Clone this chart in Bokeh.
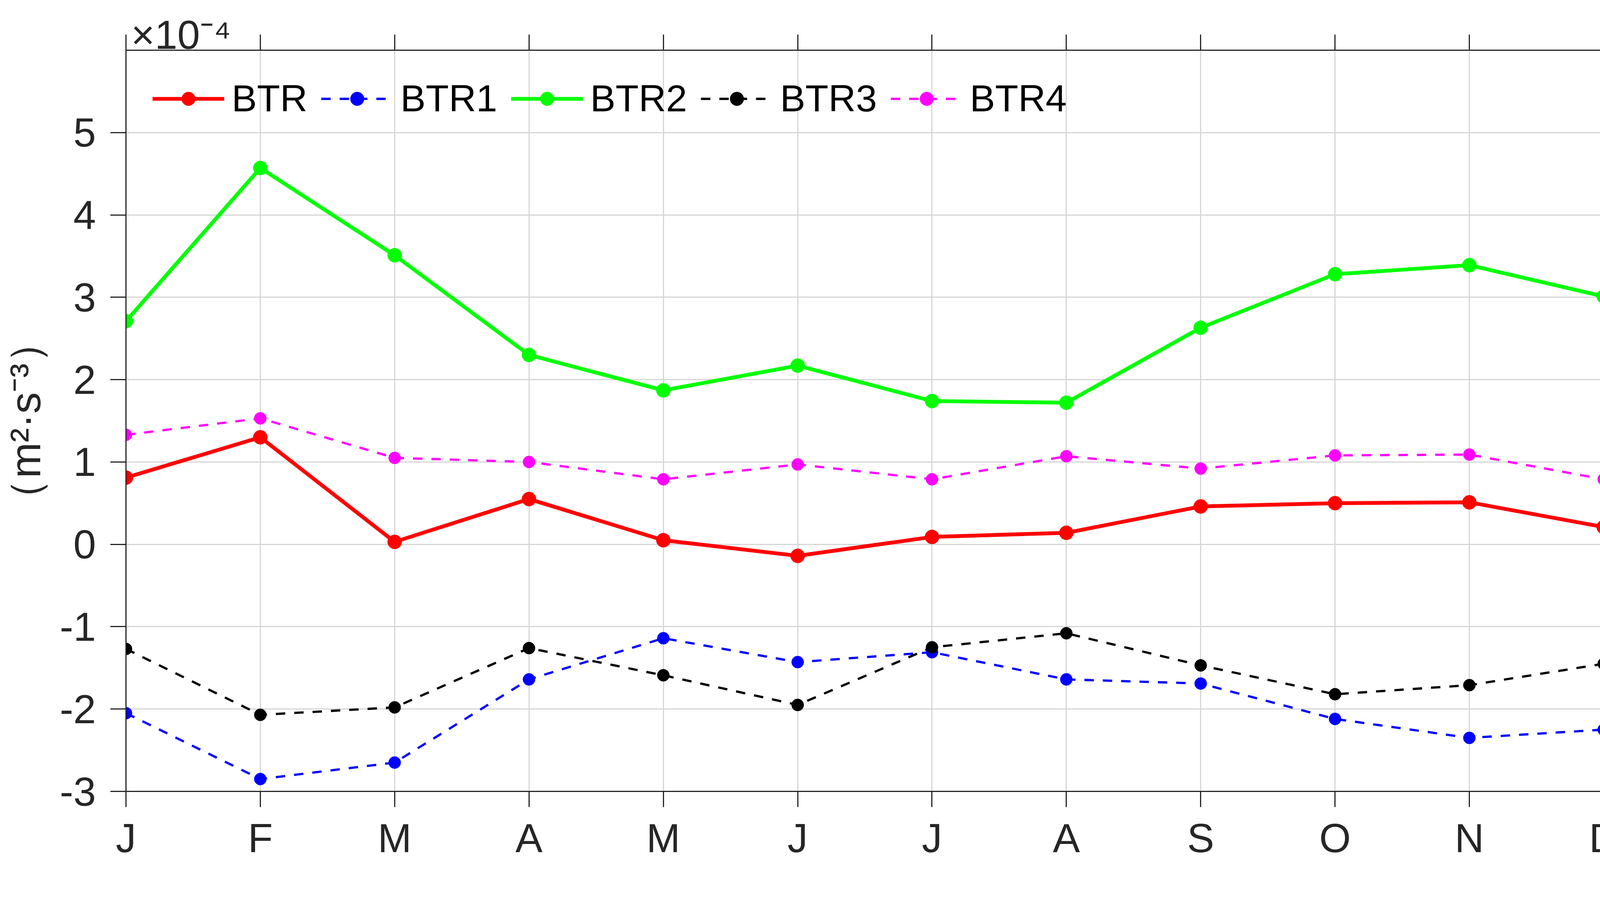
from bokeh.plotting import figure
from bokeh.models import LinearAxis, FixedTicker, Range1d, Legend
from bokeh.embed import file_html
from bokeh.resources import INLINE

# ---- data (values in units of 1e-4 m^2 s^-3) ----
month_pos = [1, 2, 3, 4, 5, 6, 7, 8, 9, 10, 11, 12]
month_labels = ["J", "F", "M", "A", "M", "J", "J", "A", "S", "O", "N", "D"]
btr = [0.81, 1.30, 0.03, 0.55, 0.05, -0.14, 0.09, 0.14, 0.46, 0.50, 0.51, 0.21]
btr1 = [-2.05, -2.85, -2.65, -1.64, -1.14, -1.43, -1.31, -1.64, -1.69, -2.12, -2.35, -2.25]
btr2 = [2.71, 4.57, 3.51, 2.30, 1.87, 2.17, 1.74, 1.72, 2.63, 3.28, 3.39, 3.01]
btr3 = [-1.27, -2.07, -1.98, -1.26, -1.59, -1.95, -1.25, -1.08, -1.47, -1.82, -1.71, -1.45]
btr4 = [1.33, 1.53, 1.05, 1.00, 0.79, 0.97, 0.79, 1.07, 0.92, 1.08, 1.09, 0.79]
y_ticks = [-3, -2, -1, 0, 1, 2, 3, 4, 5]
y_tick_labels = ["-3", "-2", "-1", "0", "1", "2", "3", "4", "5"]
exponent_text = "×10⁻⁴"

FONT = "Liberation Sans"
AX = "#262626"

p = figure(width=4160, height=2205, output_backend="svg", toolbar_location=None,
           x_range=Range1d(1, 12), y_range=Range1d(-3, 6),
           min_border_left=319, min_border_top=128, min_border_right=55, min_border_bottom=176)
p.outline_line_color = None
p.background_fill_color = "white"

# bottom / left axes
p.xaxis.ticker = FixedTicker(ticks=month_pos)
p.xaxis.major_label_overrides = {m: l for m, l in zip(month_pos, month_labels)}
p.yaxis.ticker = FixedTicker(ticks=y_ticks)
p.yaxis.major_label_overrides = {t: l for t, l in zip(y_ticks, y_tick_labels)}
for ax in (p.xaxis[0], p.yaxis[0]):
    ax.axis_line_color = AX
    ax.axis_line_width = 3
    ax.major_tick_line_color = AX
    ax.major_tick_line_width = 3
    ax.major_tick_out = 40
    ax.major_tick_in = 0
    ax.minor_tick_line_color = None
    ax.major_label_text_font = FONT
    ax.major_label_text_font_size = "104px"
    ax.major_label_text_color = AX
p.xaxis.major_label_standoff = 21
p.yaxis.major_label_standoff = 37
p.yaxis.axis_label = "（m²·s⁻³）"
p.yaxis.axis_label_text_font = FONT
p.yaxis.axis_label_text_font_size = "110px"
p.yaxis.axis_label_text_font_style = "normal"
p.yaxis.axis_label_text_color = AX
p.yaxis.axis_label_standoff = 24

# box: top and right axes with outward ticks, no labels
top = LinearAxis(ticker=FixedTicker(ticks=month_pos),
                 major_label_overrides={m: "" for m in month_pos})
right = LinearAxis(ticker=FixedTicker(ticks=y_ticks),
                   major_label_overrides={t: "" for t in y_ticks})
for ax in (top, right):
    ax.axis_line_color = AX
    ax.axis_line_width = 3
    ax.major_tick_line_color = AX
    ax.major_tick_line_width = 3
    ax.major_tick_out = 40
    ax.major_tick_in = 0
    ax.minor_tick_line_color = None
    ax.major_label_text_font_size = "1px"
    ax.major_label_standoff = 0
p.add_layout(top, "above")
p.add_layout(right, "right")

# exponent text (x 10^-4) carried by a bare outer top axis
exp_pos = 1.41
exp_axis = LinearAxis(ticker=FixedTicker(ticks=[exp_pos]),
                      major_label_overrides={exp_pos: exponent_text})
exp_axis.axis_line_color = None
exp_axis.major_tick_line_color = None
exp_axis.major_tick_out = 0
exp_axis.major_tick_in = 0
exp_axis.minor_tick_line_color = None
exp_axis.major_label_text_font = FONT
exp_axis.major_label_text_font_size = "104px"
exp_axis.major_label_text_color = AX
exp_axis.major_label_standoff = -58
p.add_layout(exp_axis, "above")

# grid
p.xgrid.ticker = FixedTicker(ticks=month_pos)
p.ygrid.ticker = FixedTicker(ticks=y_ticks)
for g in (p.xgrid[0], p.ygrid[0]):
    g.grid_line_color = "#d6d6d6"
    g.grid_line_width = 3

# series
series = [
    ("BTR", btr, "#ff0000", 9.7, None, 36),
    ("BTR1", btr1, "#0000ff", 5.8, "24 23", 31),
    ("BTR2", btr2, "#00ff00", 9.7, None, 36),
    ("BTR3", btr3, "#000000", 5.8, "24 23", 31),
    ("BTR4", btr4, "#ff00ff", 5.8, "24 23", 31),
]
items = []
for name, vals, col, lw, dash, ms in series:
    kw = {}
    if dash:
        kw["line_dash"] = dash
    r1 = p.line(month_pos, vals, line_color=col, line_width=lw, **kw)
    r2 = p.scatter(month_pos, vals, marker="circle", size=ms, fill_color=col, line_color=col)
    items.append((name, [r1, r2]))

legend = Legend(items=items, orientation="horizontal", location="top_left")
legend.label_text_font = FONT
legend.label_text_font_size = "97px"
legend.label_text_color = "black"
legend.glyph_width = 184
legend.glyph_height = 87
legend.label_standoff = 19
legend.spacing = 35
legend.padding = 0
legend.margin = 68
legend.border_line_color = None
legend.background_fill_alpha = 0
p.add_layout(legend, "center")

open("out.html", "w").write(file_html(p, INLINE))
